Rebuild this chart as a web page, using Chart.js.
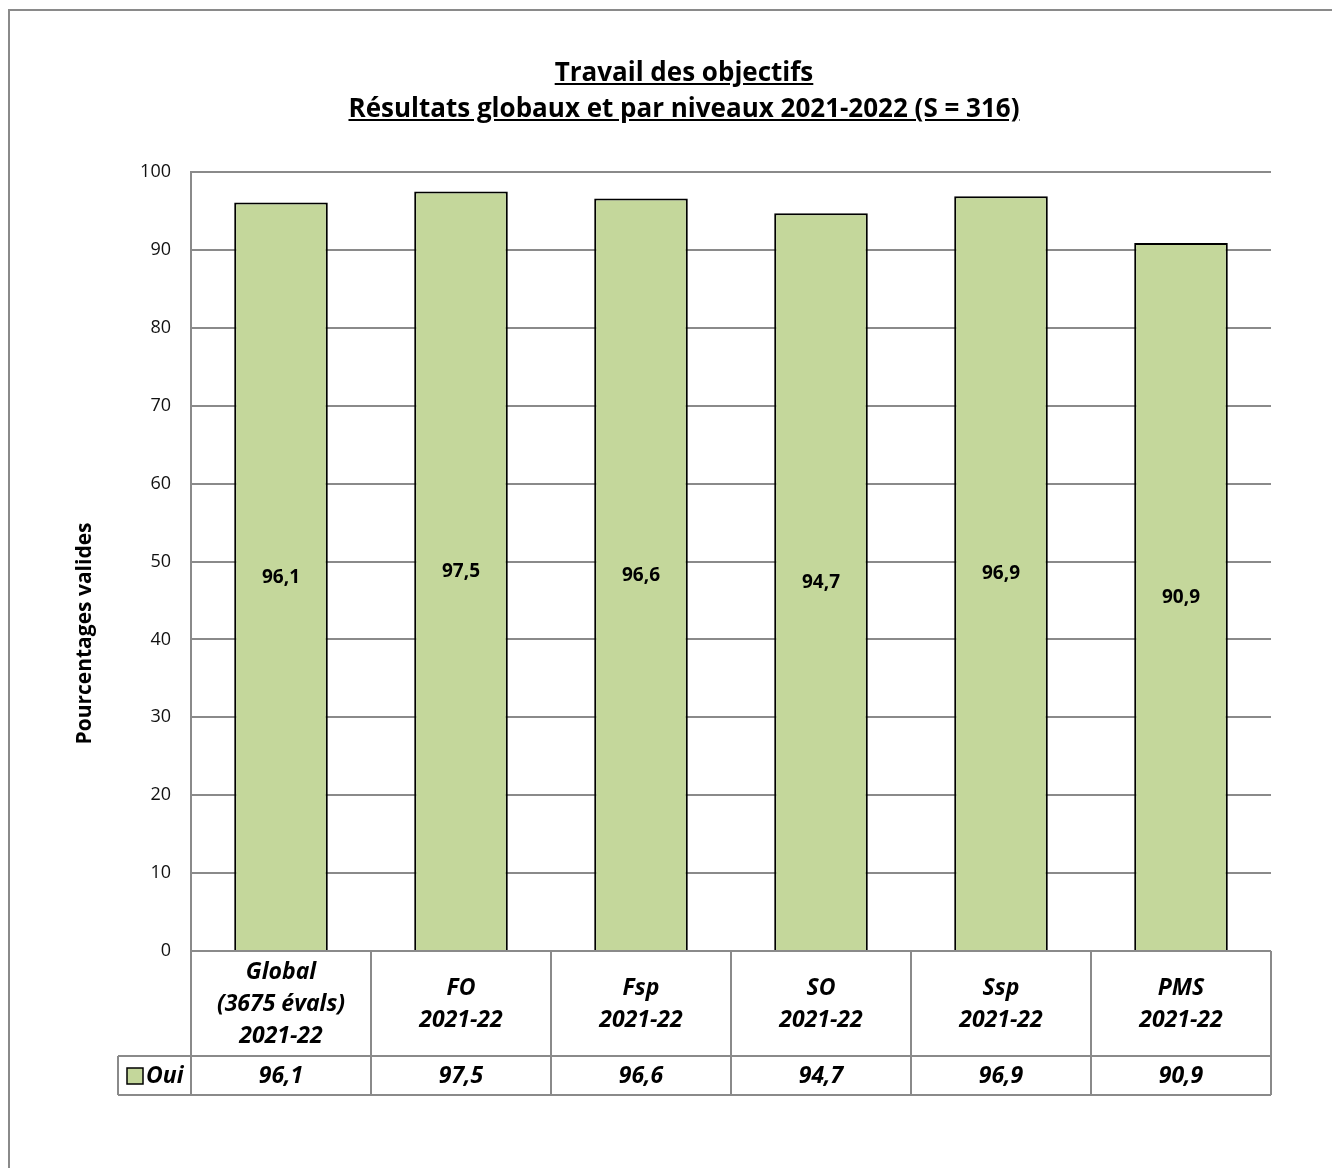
<!DOCTYPE html>
<html>
<head>
<meta charset="utf-8">
<script src="https://cdn.jsdelivr.net/npm/chart.js@4/dist/chart.umd.min.js"></script>
<style>
  html, body { margin: 0; padding: 0; background: #fff; }
  #wrap { position: relative; width: 1332px; height: 1168px; }
  #title {
    position: absolute; left: 0; width: 1368px; top: 53px;
    text-align: center; font-family: "Open Sans", sans-serif; font-weight: bold;
    font-size: 26px; line-height: 36px; color: #000; text-decoration: underline;
  }
</style>
</head>
<body>
<div id="wrap">
  <canvas id="chart" width="1332" height="1168"></canvas>
  <div id="title">Travail des objectifs<br>Résultats globaux et par niveaux 2021-2022 (S = 316)</div>
</div>
<script>
const categories = [
    ['Global', '(3675 évals)', '2021-22'],
    ['FO', '2021-22'],
    ['Fsp', '2021-22'],
    ['SO', '2021-22'],
    ['Ssp', '2021-22'],
    ['PMS', '2021-22']
];
const ouiValues = [96.1, 97.5, 96.6, 94.7, 96.9, 90.9];
const yTicks = [0, 10, 20, 30, 40, 50, 60, 70, 80, 90, 100];
const yTitle = 'Pourcentages valides';

const FONT = '"Open Sans", sans-serif';
const GRID = '#8a8a8a';
const GREEN = '#C4D79B';

function fmt(v) {
    return v.toFixed(1).replace('.', ',');
}

const tablePlugin = {
    id: 'dataTable',
    afterDraw(chart) {
        const ctx = chart.ctx;
        const x = chart.scales.x;
        const area = chart.chartArea;
        const top = area.bottom;
        const headBottom = top + 105;
        const rowBottom = headBottom + 39;
        const legendLeft = 118;
        const step = (area.right - area.left) / categories.length;

        ctx.save();
        // outer frame
        ctx.strokeStyle = GRID;
        ctx.lineWidth = 2;
        ctx.beginPath();
        ctx.moveTo(9, 1168);
        ctx.lineTo(9, 10);
        ctx.lineTo(1332, 10);
        ctx.stroke();

        // table lines
        ctx.beginPath();
        ctx.moveTo(area.left, top); ctx.lineTo(area.right, top);
        ctx.moveTo(legendLeft, headBottom); ctx.lineTo(area.right, headBottom);
        ctx.moveTo(legendLeft, rowBottom); ctx.lineTo(area.right, rowBottom);
        ctx.moveTo(legendLeft, headBottom); ctx.lineTo(legendLeft, rowBottom);
        for (let i = 0; i <= categories.length; i++) {
            const lx = area.left + i * step;
            ctx.moveTo(lx, top); ctx.lineTo(lx, rowBottom);
        }
        ctx.stroke();

        // category labels
        ctx.fillStyle = '#000';
        ctx.textAlign = 'center';
        ctx.textBaseline = 'middle';
        ctx.font = 'italic bold 23px ' + FONT;
        const mid = (top + headBottom) / 2 + 1;
        categories.forEach((lines, i) => {
            const cx = x.getPixelForValue(i);
            const y0 = mid - (lines.length - 1) * 16;
            lines.forEach((ln, j) => ctx.fillText(ln, cx, y0 + j * 32));
            ctx.fillText(fmt(ouiValues[i]), cx, (headBottom + rowBottom) / 2 + 1);
        });

        // legend cell
        ctx.fillStyle = GREEN;
        ctx.fillRect(127, 1068, 16, 16);
        ctx.strokeStyle = '#000';
        ctx.lineWidth = 1.5;
        ctx.strokeRect(127, 1068, 16, 16);
        ctx.fillStyle = '#000';
        ctx.textAlign = 'left';
        ctx.fillText('Oui', 146, (headBottom + rowBottom) / 2 + 1);

        // y axis title, centred on plot + table like the original
        ctx.save();
        ctx.translate(85, (area.top + rowBottom) / 2);
        ctx.rotate(-Math.PI / 2);
        ctx.textAlign = 'center';
        ctx.font = 'bold 21px ' + FONT;
        ctx.fillText(yTitle, 0, 0);
        ctx.restore();

        // value labels inside bars
        const meta = chart.getDatasetMeta(0);
        ctx.font = 'bold 19px ' + FONT;
        ctx.textAlign = 'center';
        meta.data.forEach((bar, i) => {
            ctx.fillText(fmt(ouiValues[i]), bar.x, (bar.y + bar.base) / 2 + 1);
        });
        ctx.restore();
    }
};

new Chart(document.getElementById('chart'), {
    type: 'bar',
    data: {
        labels: categories,
        datasets: [{
            label: 'Oui',
            data: ouiValues,
            backgroundColor: GREEN,
            borderColor: '#000',
            borderWidth: 2,
            barPercentage: 0.52,
            categoryPercentage: 1
        }]
    },
    options: {
        responsive: false,
        animation: false,
        layout: { padding: { top: 172, right: 61, left: 0, bottom: 0 } },
        plugins: {
            legend: { display: false },
            tooltip: { enabled: false }
        },
        scales: {
            x: {
                ticks: { display: false },
                grid: { display: false },
                border: { display: false },
                afterFit: s => { s.height = 217; }
            },
            y: {
                min: 0,
                max: 100,
                afterFit: s => { s.width = 191; },
                afterBuildTicks: s => { s.ticks = yTicks.map(v => ({ value: v })); },
                ticks: {
                    padding: 20,
                    color: '#111',
                    font: { family: FONT, size: 18 }
                },
                grid: { color: GRID, lineWidth: 2, drawTicks: false },
                border: { color: GRID, width: 2 },
                title: { display: false }
            }
        }
    },
    plugins: [tablePlugin]
});
</script>
</body>
</html>
